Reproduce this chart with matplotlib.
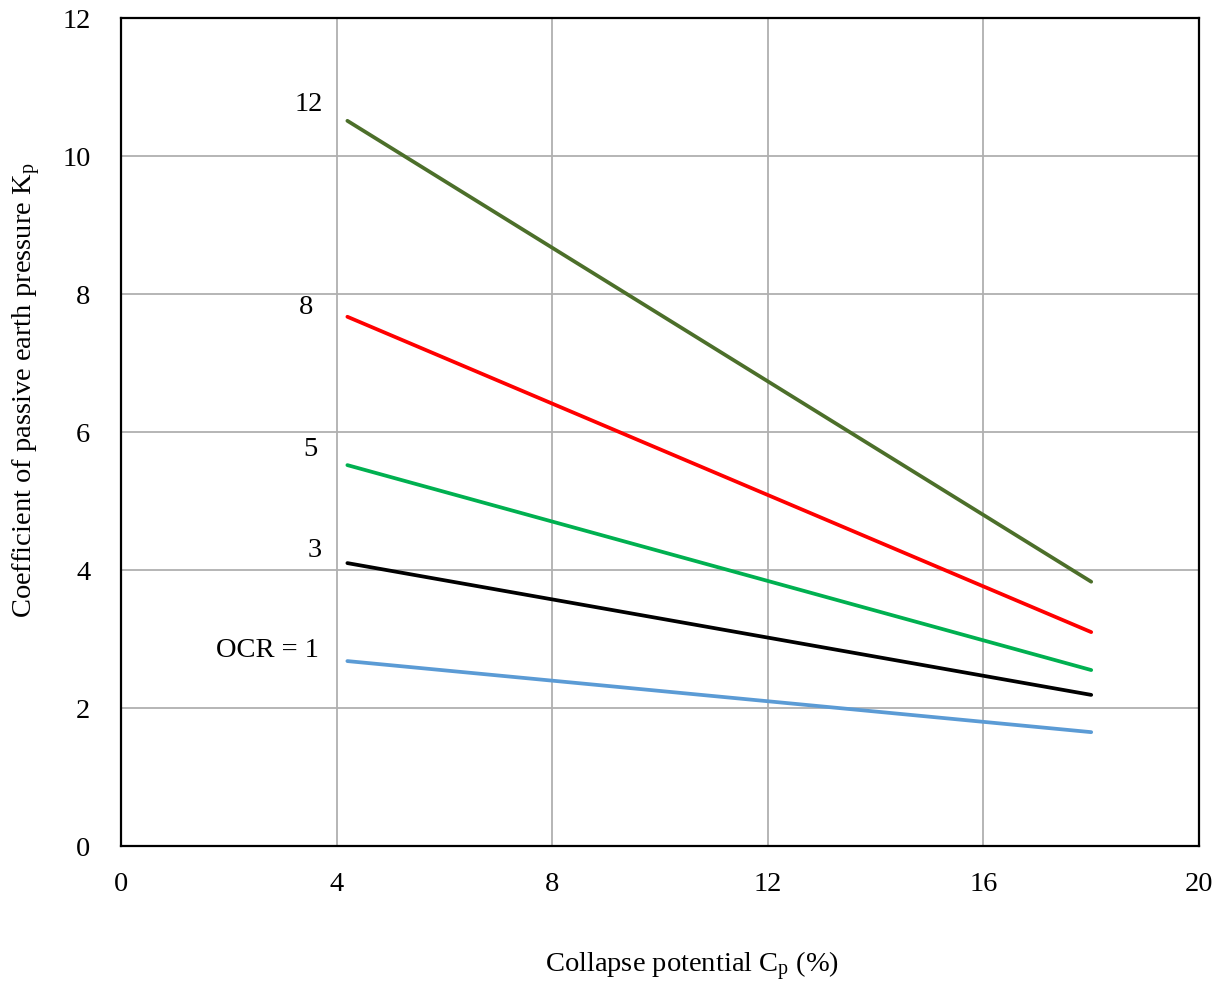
import numpy as np
import matplotlib
matplotlib.use("Agg")
import matplotlib.pyplot as plt

plt.rcParams['font.family'] = ['Liberation Serif', 'DejaVu Serif']
plt.rcParams['mathtext.fontset'] = 'custom'
plt.rcParams['mathtext.rm'] = 'Liberation Serif'
plt.rcParams['mathtext.it'] = 'Liberation Serif:italic'

# collapse potential (%) at the ends of each line
cp = [4.2, 18.0]

# Kp for each OCR
ocr_labels = ["12", "8", "5", "3", "OCR = 1"]
kp_ocr12 = [10.51, 3.83]
kp_ocr8 = [7.67, 3.10]
kp_ocr5 = [5.52, 2.55]
kp_ocr3 = [4.10, 2.19]
kp_ocr1 = [2.68, 1.65]

# where the OCR labels sit (data coords, right aligned)
label_x = [3.75, 3.56, 3.64, 3.73, 3.67]
label_y = [10.75, 7.80, 5.74, 4.28, 2.83]

colors = ["#4C6F2A", "#FF0000", "#00B050", "#000000", "#5B9BD5"]
series = [kp_ocr12, kp_ocr8, kp_ocr5, kp_ocr3, kp_ocr1]

fs = 20.5

fig = plt.figure(figsize=(12.27, 9.89), dpi=100)
ax = fig.add_axes([121/1227, 1-846/989, (1199-121)/1227, (846-18)/989])

for kp, c in zip(series, colors):
    ax.plot(cp, kp, color=c, linewidth=2.7, solid_capstyle='round', zorder=3)

for lab, x, y in zip(ocr_labels, label_x, label_y):
    ax.text(x, y, lab, ha='right', va='center', fontsize=fs)

ax.set_xlim(0, 20)
ax.set_ylim(0, 12)
ax.set_xticks(np.arange(0, 21, 4))
ax.set_yticks(np.arange(0, 13, 2))
ax.grid(True, color='#B0B0B0', linewidth=1.3, zorder=0)
ax.set_axisbelow(True)
ax.tick_params(length=0, labelsize=fs)
ax.tick_params(axis='x', pad=19)
ax.tick_params(axis='y', pad=22)
for s in ax.spines.values():
    s.set_linewidth(1.6)
    s.set_color('black')

fig.text(692/1227, 1-966/989, r"Collapse potential C$_\mathregular{p}$ (%)",
         ha='center', va='center', fontsize=fs)
fig.text(27/1227, 1-390/989, r"Coefficient of passive earth pressure K$_\mathregular{p}$",
         ha='center', va='center', rotation=90, fontsize=fs)

fig.savefig("out.png", dpi=100)
